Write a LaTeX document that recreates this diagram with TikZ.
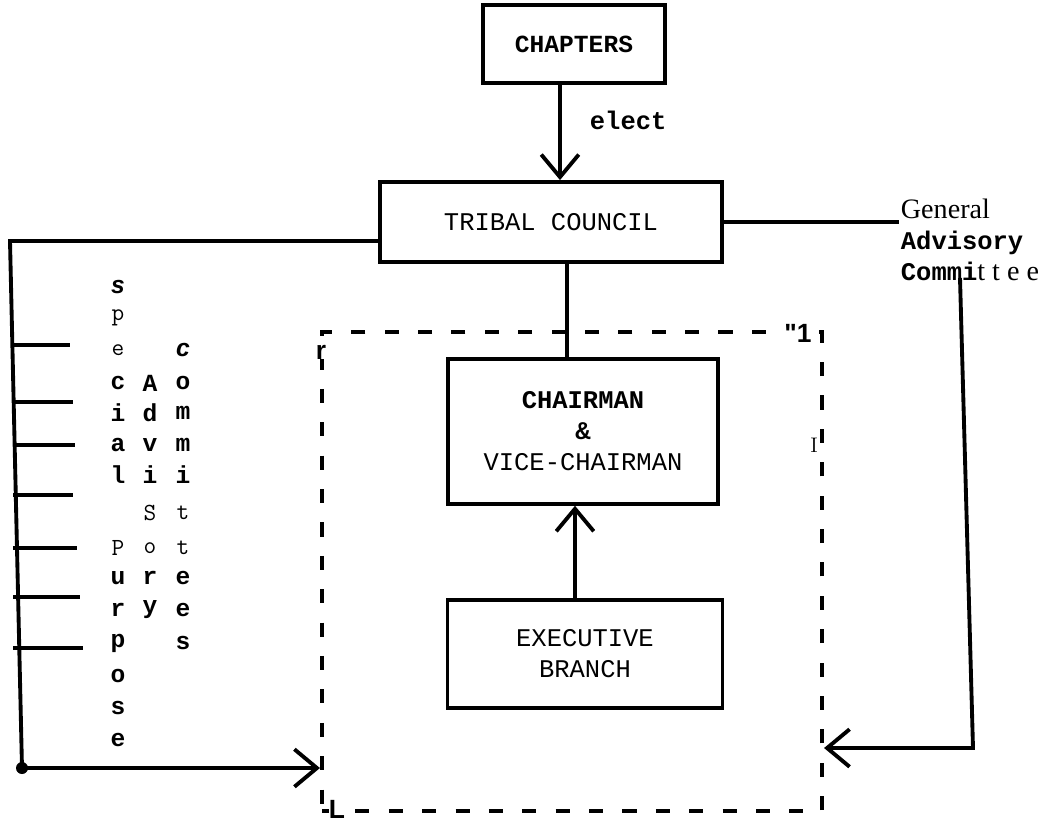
\documentclass[tikz,border=0pt]{standalone}
\usepackage{fontspec}
\newfontfamily\tw{Liberation Mono}
\newfontfamily\tms{Liberation Serif}
\newfontfamily\sw{Liberation Sans}
\usetikzlibrary{positioning}
\usetikzlibrary{arrows.meta}

\newcommand\twb{\tw\bfseries}
\newcommand\swb{\sw\bfseries\itshape}
\newcommand\thn{\ttfamily}
\newcommand\tmsz{\tms\fontsize{16}{17.6}\selectfont}

\begin{document}
\begin{tikzpicture}
		[x=0.02cm, y=-0.02cm, line width=2.2pt,
		 box/.style={draw, line width=2.2pt, inner sep=0pt, align=center, font=\tw\fontsize{14.5}{17.6}\selectfont},
		 barb/.style={-{Straight Barb[length=4.5mm, width=7.5mm, line width=2.2pt]}},
		 dashbox/.style={draw, dash pattern=on 8pt off 11pt, line width=2.4pt, inner sep=0pt},
		 letter/.style={inner sep=0pt, font=\fontsize{14}{14}\selectfont},
		 scrap/.style={inner sep=0pt, font=\sw\bfseries\fontsize{15}{15}\selectfont}]
		\useasboundingbox (0,0) rectangle (1049,823);
		\node[dashbox, minimum width=10cm, minimum height=9.58cm] (area) at (572,571.5) {};
		\node[box, minimum width=6.84cm, minimum height=1.6cm] (tc) at (551,222) {TRIBAL COUNCIL};
		\node[box, minimum width=3.64cm, minimum height=1.56cm, above=1.9cm of tc, xshift=0.46cm, font=\twb\fontsize{14}{17}\selectfont] (chap) {CHAPTERS};
		\node[box, minimum width=5.4cm, minimum height=2.9cm, below=1.86cm of tc, xshift=0.64cm] (chair) {{\twb CHAIRMAN}\\{\twb\&}\\VICE-CHAIRMAN};
		\node[box, minimum width=5.5cm, minimum height=2.16cm, below=1.84cm of chair, xshift=0.04cm] (exec) {EXECUTIVE\\BRANCH};
		\node[inner sep=0pt, font=\twb\fontsize{14.5}{17}\selectfont, below right=0.48cm and 0.28cm of chap.south] (elect) {elect};
		\node[anchor=west, align=left, inner sep=0pt, font=\fontsize{14.5}{17.6}\selectfont] (gac) at (899,240)
			{{\tmsz General}\\{\twb Advisory}\\{\twb Commi}{\tmsz t t e e}};
		\draw[barb] ([xshift=-0.28cm]chap.south) -- ([xshift=-0.28cm]chap.south |- tc.north);
		\draw ([xshift=-0.32cm]chair.north) -- ([xshift=-0.32cm]chair.north |- tc.south);
		\draw[barb] ([xshift=-0.2cm]exec.north) -- ([xshift=-0.2cm]exec.north |- chair.south);
		% general advisory committee
		\coordinate (gd) at (960,278);
		\coordinate (rb) at (973,748);
		\draw (tc.east) -- (tc.east -| gac.west);
		\draw[barb] (gd) -- (rb) -- (rb -| area.east);
		% special purpose committees
		\coordinate (lt) at (10,241);
		\coordinate (lb) at (22,768);
		\draw ([yshift=-0.38cm]tc.west) -- (lt) -- (lb);
		\draw[barb] (lb) -- (lb -| area.west);
		\fill (lb) circle (1.2mm);
		\foreach \ty/\tx in {345/70, 402/73, 445/75, 495/73, 548/77, 597/80, 648/83}
			\draw (13,\ty) -- (\tx,\ty);
		\foreach \ly/\lf/\lc in {287/\swb/s, 318/\thn/p, 350/\thn/e, 383/\twb/c, 413/\twb/i, 445/\twb/a, 475/\twb/l,
			548/\thn/P, 578/\twb/u, 610/\twb/r, 643/\twb/p, 676/\twb/o, 708/\twb/s, 740/\twb/e}
			\node[letter] (sp\ly) at (118,\ly) {\lf \lc};
		\foreach \ly/\lf/\lc in {383/\twb/A, 413/\twb/d, 445/\twb/v, 475/\twb/i, 513/\thn/S, 548/\thn/o, 578/\twb/r, 610/\twb/y}
			\node[letter] (ad\ly) at (150,\ly) {\lf \lc};
		\foreach \ly/\lf/\lc in {350/\swb/c, 383/\twb/o, 413/\twb/m, 445/\twb/m, 475/\twb/i, 513/\thn/t, 548/\thn/t,
			578/\twb/e, 610/\twb/e, 643/\twb/s}
			\node[letter] (co\ly) at (183,\ly) {\lf \lc};
		% stray marks
		\node[scrap, fill=white] (sr) at (321,352) {r};
		\node[scrap, fill=white] (sq) at (798,333) {"1};
		\node[scrap, fill=white] (sl) at (337,809) {L};
		\node[inner sep=0pt, font=\rmfamily\fontsize{12}{12}\selectfont] (si) at (814,445) {I};
	\end{tikzpicture}
\end{document}
